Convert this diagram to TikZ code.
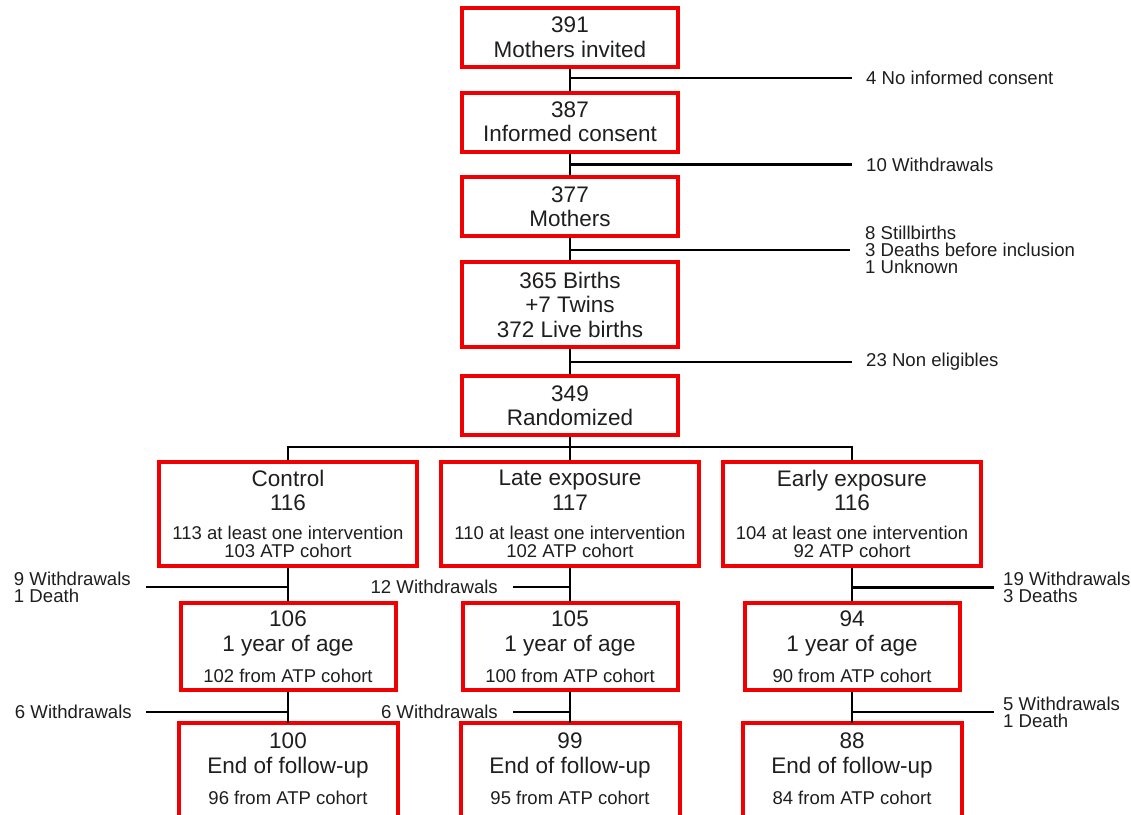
\documentclass[tikz,border=0pt]{standalone}
\usepackage{fontspec}
\setmainfont{Liberation Sans}
\definecolor{boxred}{RGB}{240,0,0}
\definecolor{ink}{RGB}{30,30,30}
\newcommand\detailfont{\fontsize{18.5}{18}\selectfont}
\tikzset{
  flowbox/.style={draw=boxred, line width=4pt, text=ink, align=center, inner sep=0pt,
    font=\fontsize{22.5}{24.5}\selectfont},
  topbox/.style={flowbox, minimum width=216pt, minimum height=59pt},
  groupbox/.style={flowbox, minimum width=258pt, minimum height=104pt},
  yearbox/.style={flowbox, minimum width=215pt, minimum height=87pt},
  endbox/.style={yearbox, draw=none},
  side/.style={text=ink, inner sep=0pt, align=left, font=\fontsize{18.6}{17}\selectfont},
  link/.style={draw=black, line width=2.7pt}
}
\begin{document}
\begin{tikzpicture}[x=1pt,y=-1pt]
  \useasboundingbox (0,0) rectangle (1131,814);
  % main column
  \node[topbox] (invited) at (570,37.5) {391\\Mothers invited};
  \node[topbox] (consent) at (570,122) {387\\Informed consent};
  \node[topbox] (mothers) at (570,206.5) {377\\Mothers};
  \node[topbox, minimum height=85pt] (births) at (570,304.5) {365 Births\\+7 Twins\\372 Live births};
  \node[topbox] (random) at (570,405.5) {349\\Randomized};
  % exclusions
  \node[side, anchor=west] (noconsent) at (866,78) {4 No informed consent};
  \node[side, anchor=west] (withdrawn) at (866,164.5) {10 Withdrawals};
  \node[side, anchor=west] (stillborn) at (865,250) {8 Stillbirths\\3 Deaths before inclusion\\1 Unknown};
  \node[side, anchor=west] (noneligible) at (866,362) {23 Non eligibles};
  \begin{scope}[link]
    \draw (invited) -- (consent);
    \draw (consent) -- (mothers);
    \draw (mothers) -- (births);
    \draw (births) -- (random);
    \draw (invited.south |- noconsent.west) -- ([xshift=-14pt]noconsent.west);
    \draw (consent.south |- withdrawn.west) -- ([xshift=-14pt]withdrawn.west);
    \draw (mothers.south |- stillborn.west) -- ([xshift=-15pt]stillborn.west);
    \draw (births.south |- noneligible.west) -- ([xshift=-14pt]noneligible.west);
  \end{scope}
  % arms
  \coordinate (split) at (570,447);
  \node[groupbox] (control) at (288,514) {Control\\116\\[4.5pt]\detailfont 113 at least one intervention\\[-6.5pt]\detailfont 103 ATP cohort};
  \node[groupbox] (late) at (570,514) {Late exposure\\117\\[4.5pt]\detailfont 110 at least one intervention\\[-6.5pt]\detailfont 102 ATP cohort};
  \node[groupbox] (early) at (852,514) {Early exposure\\116\\[4.5pt]\detailfont 104 at least one intervention\\[-6.5pt]\detailfont 92 ATP cohort};
  \node[yearbox] (controlyear) at (288,646.5) {106\\1 year of age\\[6.5pt]\detailfont 102 from ATP cohort};
  \node[yearbox] (lateyear) at (570,646.5) {105\\1 year of age\\[6.5pt]\detailfont 100 from ATP cohort};
  \node[yearbox] (earlyyear) at (852,646.5) {94\\1 year of age\\[6.5pt]\detailfont 90 from ATP cohort};
  \node[endbox] (controlend) at (288,768.5) {100\\End of follow-up\\[6.5pt]\detailfont 96 from ATP cohort};
  \node[endbox] (lateend) at (570,768.5) {99\\End of follow-up\\[6.5pt]\detailfont 95 from ATP cohort};
  \node[endbox] (earlyend) at (852,768.5) {88\\End of follow-up\\[6.5pt]\detailfont 84 from ATP cohort};
  \foreach \arm in {controlend,lateend,earlyend}
    \draw[boxred, line width=4pt] ([yshift=-6pt]\arm.south west) -- (\arm.north west)
      -- (\arm.north east) -- ([yshift=-6pt]\arm.south east);
  % losses
  \node[side, anchor=east] (controlloss) at (131,587) {9 Withdrawals\\1 Death};
  \node[side, anchor=east] (lateloss) at (498,587) {12 Withdrawals};
  \node[side, anchor=west] (earlyloss) at (1003,587.5) {19 Withdrawals\\3 Deaths};
  \node[side, anchor=east] (controlloss2) at (132,712) {6 Withdrawals};
  \node[side, anchor=east] (lateloss2) at (498,712) {6 Withdrawals};
  \node[side, anchor=west] (earlyloss2) at (1003,712) {5 Withdrawals\\1 Death};
  \begin{scope}[link]
    \draw (random) -- (split);
    \draw (control.north) |- (split) -| (early.north);
    \draw (split) -- (late.north);
    \draw (control) -- (controlyear);
    \draw (late) -- (lateyear);
    \draw (early) -- (earlyyear);
    \draw (controlyear) -- (controlend.north);
    \draw (lateyear) -- (lateend.north);
    \draw (earlyyear) -- (earlyend.north);
    \draw ([xshift=15pt]controlloss.east) -- (control.south |- controlloss.east);
    \draw ([xshift=15pt]lateloss.east) -- (late.south |- lateloss.east);
    \draw (early.south |- earlyloss.west) -- ([xshift=-9pt]earlyloss.west);
    \draw ([xshift=14pt]controlloss2.east) -- (controlyear.south |- controlloss2.east);
    \draw ([xshift=15pt]lateloss2.east) -- (lateyear.south |- lateloss2.east);
    \draw (earlyyear.south |- earlyloss2.west) -- ([xshift=-9pt]earlyloss2.west);
  \end{scope}
\end{tikzpicture}
\end{document}
